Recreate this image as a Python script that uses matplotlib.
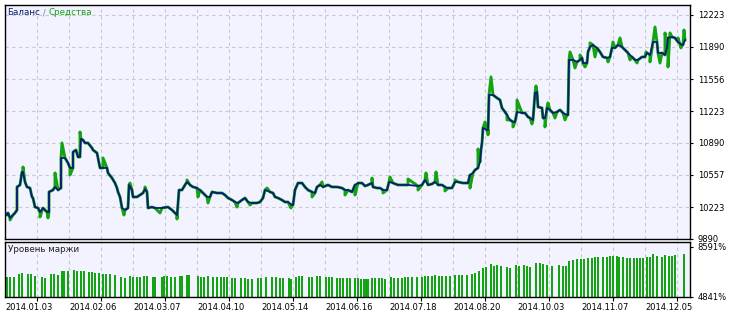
import matplotlib
matplotlib.use("Agg")
import matplotlib.pyplot as plt
from matplotlib.transforms import ScaledTranslation

# balance curve (trade number, balance)
bal_trade = [0, 2, 3, 5, 8, 10, 12, 12, 15, 17, 18, 20, 22, 25, 27, 28, 30, 33, 35, 38,
             42, 44, 44, 48, 50, 53, 56, 56, 60, 63, 65, 68, 68, 71, 73, 75, 76, 78, 80, 83,
             87, 88, 92, 93, 95, 98, 102, 103, 107, 110, 112, 113, 115, 117, 120, 123, 124, 127, 128, 132,
             135, 138, 140, 142, 143, 147, 150, 157, 163, 167, 170, 172, 174, 177, 180, 182, 185, 188, 192, 195,
             198, 202, 205, 207, 212, 217, 220, 223, 227, 230, 233, 237, 240, 243, 247, 252, 255, 258, 260, 265,
             268, 270, 273, 277, 280, 283, 287, 288, 290, 293, 297, 300, 303, 307, 310, 312, 315, 318, 323, 327,
             332, 337, 340, 343, 347, 350, 353, 357, 360, 363, 367, 368, 372, 375, 378, 382, 384, 388, 393, 403,
             413, 417, 420, 423, 427, 430, 433, 437, 440, 443, 447, 450, 453, 458, 463, 465, 468, 470, 473, 475,
             476, 477, 478, 482, 483, 484, 488, 492, 495, 497, 500, 502, 505, 508, 510, 512, 517, 520, 523, 525,
             528, 530, 532, 533, 537, 538, 540, 542, 545, 548, 552, 555, 558, 562, 563, 564, 568, 572, 575, 577,
             578, 582, 583, 585, 588, 592, 595, 598, 602, 605, 607, 610, 613, 617, 620, 623, 627, 630, 633, 637,
             640, 642, 645, 648, 652, 653, 657, 660, 662, 663, 667, 670, 673, 677, 678, 680]
balance = [10161, 10140, 10161, 10109, 10140, 10161, 10192, 10432, 10453, 10588, 10588, 10484, 10432, 10421, 10328, 10317, 10223, 10213, 10171, 10213,
           10171, 10171, 10380, 10400, 10432, 10400, 10421, 10734, 10734, 10682, 10630, 10630, 10796, 10817, 10744, 10744, 10932, 10921, 10890, 10890,
           10838, 10817, 10786, 10734, 10630, 10630, 10630, 10578, 10525, 10473, 10421, 10380, 10328, 10213, 10192, 10213, 10453, 10400, 10328, 10328,
           10348, 10369, 10411, 10380, 10213, 10223, 10213, 10213, 10223, 10192, 10161, 10140, 10400, 10400, 10453, 10484, 10453, 10432, 10421, 10400,
           10369, 10328, 10328, 10380, 10369, 10369, 10348, 10317, 10296, 10275, 10265, 10296, 10317, 10275, 10265, 10265, 10275, 10317, 10400, 10380,
           10369, 10328, 10317, 10296, 10275, 10275, 10244, 10244, 10400, 10473, 10473, 10432, 10400, 10380, 10369, 10432, 10453, 10432, 10453, 10432,
           10432, 10421, 10400, 10400, 10380, 10453, 10473, 10473, 10442, 10453, 10473, 10432, 10421, 10421, 10400, 10400, 10484, 10473, 10453, 10453,
           10442, 10453, 10505, 10453, 10463, 10484, 10453, 10453, 10432, 10421, 10421, 10484, 10484, 10473, 10473, 10557, 10578, 10609, 10630, 10692,
           10817, 10890, 11046, 11025, 11025, 11390, 11390, 11359, 11338, 11255, 11213, 11182, 11130, 11109, 11109, 11213, 11203, 11203, 11161, 11150,
           11130, 11411, 11421, 11265, 11255, 11150, 11150, 11255, 11234, 11203, 11213, 11234, 11203, 11182, 11182, 11755, 11755, 11734, 11755, 11776,
           11723, 11723, 11838, 11890, 11911, 11880, 11838, 11786, 11776, 11786, 11880, 11880, 11911, 11890, 11859, 11828, 11786, 11755, 11755, 11786,
           11786, 11828, 11807, 11942, 11942, 11828, 11828, 11807, 11880, 11984, 11994, 11984, 11942, 11911, 11911, 11963]

# equity excursions between trades (trade number, equity)
eq_trade = [5, 18, 35, 43, 50, 57, 65, 75, 98, 119, 125, 140, 155, 172, 182, 193, 203, 232, 245, 262,
            286, 307, 317, 340, 350, 367, 378, 385, 403, 413, 421, 431, 440, 450, 465, 473, 480, 483, 486, 502,
            508, 512, 527, 531, 540, 543, 550, 560, 565, 570, 575, 580, 585, 590, 603, 608, 615, 625, 632, 641,
            645, 650, 655, 660, 663, 665, 673, 676, 679]
eq_value = [10088, 10640, 10119, 10109, 10578, 10890, 10557, 11005, 10734, 10140, 10473, 10432, 10161, 10098, 10505, 10328, 10265, 10223, 10244, 10421,
            10213, 10328, 10484, 10348, 10348, 10525, 10369, 10536, 10515, 10400, 10578, 10588, 10390, 10505, 10421, 10827, 11109, 10974, 11578, 11130,
            11057, 11338, 11088, 11484, 11057, 11307, 11150, 11130, 11838, 11671, 11807, 11682, 11932, 11786, 11734, 11942, 11984, 11755, 11723, 11838,
            11734, 12098, 11723, 12036, 11682, 12036, 11984, 11880, 12067]

# margin level bars (trade number, %)
margin_trade = [2, 5, 9, 14, 17, 23, 26, 30, 37, 40, 46, 49, 53, 57, 59, 63, 69, 72, 76, 79,
                84, 87, 90, 94, 98, 101, 105, 110, 116, 120, 125, 128, 132, 135, 139, 142, 148, 150, 157, 159,
                162, 166, 170, 175, 177, 182, 184, 193, 196, 199, 203, 208, 212, 216, 219, 222, 227, 230,
                236, 240, 243, 247, 253, 256, 261, 267, 271, 275, 278, 284, 286, 291, 294, 297, 304, 307, 312, 315,
                321, 324, 327, 332, 335, 338, 342, 345, 350, 353, 356, 359, 361, 363, 367, 370, 374, 377, 380, 386,
                389, 393, 397, 400, 403, 407, 412, 417, 420, 423, 427, 430, 434, 437, 441, 445, 450, 454, 457, 462,
                467, 470, 474, 478, 481, 486, 489, 492, 496, 502, 505, 511, 514, 519, 522, 525, 531, 535, 538, 542,
                547, 554, 558, 561, 564, 568, 572, 576, 579, 583, 587, 590, 593, 598, 602, 605, 608, 612, 614, 618,
                622, 625, 629, 632, 635, 638, 642, 645, 648, 652, 657, 660, 664, 667, 670, 679]
margin = [6366, 6366, 6366, 6566, 6616, 6566, 6566, 6416, 6316, 6291, 6541, 6566, 6491, 6791, 6791, 6791, 6866, 6816, 6816, 6766,
          6691, 6691, 6666, 6666, 6566, 6566, 6541, 6491, 6316, 6291, 6416, 6366, 6366, 6366, 6391, 6391, 6341, 6341, 6366, 6391,
          6416, 6366, 6366, 6416, 6416, 6491, 6491, 6416, 6366, 6366, 6416, 6366, 6366, 6366, 6366, 6366, 6291, 6291,
          6241, 6241, 6191, 6191, 6241, 6241, 6316, 6316, 6316, 6291, 6241, 6241, 6166, 6366, 6416, 6416, 6366, 6366, 6416, 6416,
          6366, 6316, 6316, 6241, 6241, 6241, 6241, 6241, 6241, 6241, 6191, 6166, 6166, 6166, 6241, 6241, 6241, 6241, 6191, 6316,
          6241, 6241, 6291, 6316, 6316, 6316, 6366, 6366, 6416, 6416, 6416, 6491, 6416, 6416, 6416, 6416, 6491, 6491, 6491, 6491,
          6566, 6616, 6816, 6991, 7116, 7316, 7191, 7241, 7166, 7116, 7041, 7241, 7191, 7241, 7166, 7116, 7366, 7366, 7316, 7241,
          7191, 7241, 7166, 7166, 7566, 7616, 7691, 7691, 7691, 7741, 7791, 7816, 7816, 7816, 7866, 7916, 7916, 7916, 7866, 7816,
          7741, 7741, 7741, 7741, 7741, 7791, 7866, 7816, 8066, 7941, 7866, 7991, 7941, 7941, 7991, 8066]

y_ticks = [9890, 10223, 10557, 10890, 11223, 11556, 11890, 12223]
date_trade = [32, 96, 160, 224, 288, 352, 416, 480, 544, 608, 672]
date_labels = ["2014.01.03", "2014.02.06", "2014.03.07", "2014.04.10", "2014.05.14", "2014.06.16",
               "2014.07.18", "2014.08.20", "2014.10.03", "2014.11.07", "2014.12.05"]
margin_ticks = [4841, 8591]

plt.rcParams['font.family'] = ['DejaVu Sans']
plt.rcParams['font.size'] = 6

BG = '#f3f3ff'
NAVY = '#0a1a78'
GREEN = '#13a313'
GRID = '#c8c8cc'

# equity = balance path with the excursions merged in
pts = sorted(list(zip(bal_trade, balance)) + list(zip(eq_trade, eq_value)), key=lambda p: p[0])
eq_x = [p[0] for p in pts]
eq_y = [p[1] for p in pts]

fig = plt.figure(figsize=(7.34, 3.14), dpi=100)
fig.patch.set_facecolor('white')

W, H = 734, 314
ax = fig.add_axes([5 / W, 75 / H, 685 / W, 234 / H])
ax2 = fig.add_axes([5 / W, 17 / H, 685 / W, 55.3 / H])

grid_x = list(range(32, 685, 32))
for a in (ax, ax2):
    a.set_facecolor(BG)
    a.set_xlim(0, 685)
    for s in a.spines.values():
        s.set_color('black')
        s.set_linewidth(1.0)
    for gx in grid_x:
        a.axvline(gx, color=GRID, lw=0.8, ls=(0, (3, 3)), zorder=0)
    a.yaxis.tick_right()
    a.tick_params(axis='y', length=2, width=0.8, pad=3.5, colors='black', labelsize=6)

# main panel
ax.set_ylim(9890, 12327)
for gy in y_ticks[1:]:
    ax.axhline(gy, color=GRID, lw=0.8, ls=(0, (3, 3)), zorder=0)
ax.plot(eq_x, eq_y, color=GREEN, lw=2.1, solid_joinstyle='round', zorder=2)
ax.plot(bal_trade, balance, color=NAVY, lw=1.3, solid_joinstyle='round', zorder=3)
ax.set_yticks(y_ticks)
ax.set_yticklabels([str(v) for v in y_ticks])
ax.set_xticks([])

t1 = ax.text(0.003, 0.966, "Баланс", color=NAVY, transform=ax.transAxes,
             va='center', ha='left', fontsize=6.3)
t2 = ax.annotate(" / ", xy=(1, 0), xycoords=t1, va='bottom', ha='left',
                 color='#808080', fontsize=6.3)
ax.annotate("Средства", xy=(1, 0), xycoords=t2, va='bottom', ha='left',
            color=GREEN, fontsize=6.3)

# margin level panel
ax2.set_ylim(4841, 8988)
ax2.bar(margin_trade, margin, width=2.3, color=GREEN, zorder=2)
ax2.set_yticks(margin_ticks)
ax2.set_yticklabels([f"{v}%" for v in margin_ticks])
ax2.set_xticks(date_trade)
ax2.set_xticklabels(date_labels)
ax2.tick_params(axis='x', length=3, width=0.8, pad=1.5, labelsize=6)
shift = ScaledTranslation(-8 / 100, 0, fig.dpi_scale_trans)
for lab in ax2.get_xticklabels():
    lab.set_transform(lab.get_transform() + shift)
ax2.text(0.004, 0.85, "Уровень маржи", transform=ax2.transAxes,
         va='center', ha='left', color='#202020', fontsize=6.3)

fig.savefig("out.png", dpi=100)
